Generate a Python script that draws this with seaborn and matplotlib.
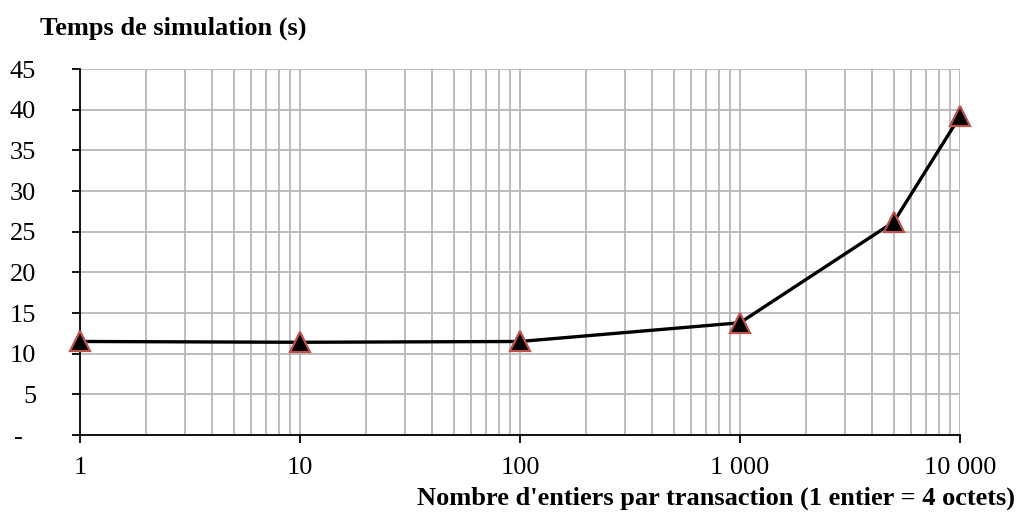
import matplotlib
matplotlib.use("Agg")
import matplotlib.pyplot as plt
import matplotlib.ticker as mticker
import seaborn as sns
import pandas as pd

entiers = [1, 10, 100, 1000, 5000, 10000]
temps = [11.5, 11.4, 11.5, 13.8, 26.2, 39.2]
y_ticks = [0, 5, 10, 15, 20, 25, 30, 35, 40, 45]
y_labels = ["-  ", "5", "10", "15", "20", "25", "30", "35", "40", "45"]
x_ticks = [1, 10, 100, 1000, 10000]
x_labels = ["1", "10", "100", "1 000", "10 000"]

sns.set_theme(style="white")
plt.rcParams['font.family'] = ['Liberation Serif', 'DejaVu Serif']

fig = plt.figure(figsize=(10.19, 5.24), dpi=100)
ax = fig.add_axes([80/1019, 1-435/524, 880/1019, (435-69)/524])

df = pd.DataFrame({"x": entiers, "y": temps})
sns.lineplot(data=df, x="x", y="y", ax=ax, color="black", linewidth=2.4,
             marker="^", markersize=14, markerfacecolor="black",
             markeredgecolor="#c0504d", markeredgewidth=1.6, clip_on=False, zorder=5)

ax.set_xscale("log")
ax.set_xlim(1, 10000)
ax.set_ylim(0, 45)
ax.set_xticks(x_ticks)
ax.set_xticklabels(x_labels)
ax.xaxis.set_minor_locator(mticker.LogLocator(base=10, subs=range(2, 10)))
ax.xaxis.set_minor_formatter(mticker.NullFormatter())
ax.set_yticks(y_ticks)
ax.set_yticklabels(y_labels)

ax.grid(True, which="major", axis="both", color="#b8b8b8", linewidth=1.3)
ax.grid(True, which="minor", axis="x", color="#b8b8b8", linewidth=1.3)
ax.set_axisbelow(True)

for s in ["top", "right"]:
    ax.spines[s].set_visible(False)
for s in ["left", "bottom"]:
    ax.spines[s].set_color("black")
    ax.spines[s].set_linewidth(1.3)

ax.tick_params(axis="both", which="major", direction="out", length=5.5, width=1.3,
               color="black", labelsize=19, labelcolor="black",
               left=True, bottom=True)
ax.tick_params(axis="x", which="major", pad=10)
ax.tick_params(axis="y", which="major", pad=26)
ax.tick_params(axis="x", which="minor", length=0, bottom=False)
ax.set_xlabel("")
ax.set_ylabel("")

fig.text(40/1019, 1-28/524, "Temps de simulation (s)", fontsize=19, fontweight="bold",
         ha="left", va="center", color="black")
fig.text(1015/1019, 1-498/524, "Nombre d'entiers par transaction (1 entier = 4 octets)",
         fontsize=19, fontweight="bold", ha="right", va="center", color="black")

fig.savefig("out.png", dpi=100)
